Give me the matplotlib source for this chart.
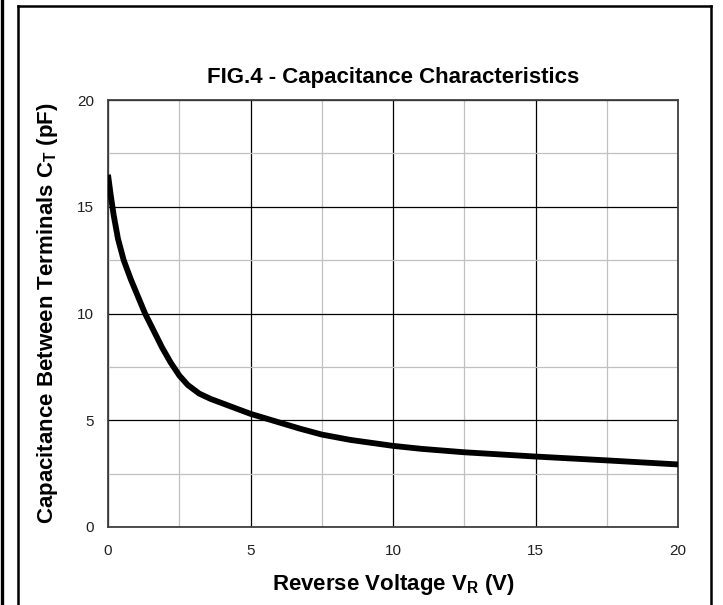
import matplotlib
matplotlib.use('Agg')
import matplotlib.pyplot as plt
from matplotlib.lines import Line2D
from matplotlib.ticker import MultipleLocator

plt.rcParams['font.family'] = ['Liberation Sans', 'DejaVu Sans']
plt.rcParams['mathtext.fontset'] = 'custom'
plt.rcParams['mathtext.bf'] = 'Liberation Sans:bold'
plt.rcParams['mathtext.rm'] = 'Liberation Sans'

# 读图得到的电容特性数据
voltage = [0, 0.1, 0.2, 0.35, 0.55, 0.8, 1.05, 1.3, 1.6, 1.9, 2.2, 2.5, 2.8, 3.2, 3.6, 4.0,
           4.5, 5.0, 5.5, 6.0, 6.75, 7.5, 8.5, 10, 11, 12.5, 15, 17.5, 20]
capacitance = [16.5, 15.5, 14.6, 13.5, 12.5, 11.6, 10.8, 10.0, 9.2, 8.4, 7.7, 7.1, 6.65, 6.25, 6.0, 5.8,
               5.55, 5.3, 5.1, 4.9, 4.6, 4.33, 4.08, 3.8, 3.66, 3.5, 3.3, 3.12, 2.93]

x_ticks = [0, 5, 10, 15, 20]
y_ticks = [0, 5, 10, 15, 20]

fig = plt.figure(figsize=(7.23, 6.05), dpi=100)
ax = fig.add_axes([108 / 723, 78 / 605, 570 / 723, 427 / 605])

ax.plot(voltage, capacitance, color='black', linewidth=4.2,
        solid_capstyle='butt', solid_joinstyle='round', zorder=3)

ax.set_xlim(0, 20)
ax.set_ylim(0, 20)
ax.set_xticks(x_ticks)
ax.set_yticks(y_ticks)
ax.xaxis.set_minor_locator(MultipleLocator(2.5))
ax.yaxis.set_minor_locator(MultipleLocator(2.5))
ax.grid(which='major', color='black', linewidth=0.9)
ax.grid(which='minor', color='#c0c0c0', linewidth=0.9)
ax.tick_params(which='both', length=0, labelsize=11, colors='#202020')
ax.tick_params(axis='x', pad=12)
ax.tick_params(axis='y', pad=10)
for s in ax.spines.values():
    s.set_color('#404040')
    s.set_linewidth(1.3)

ax.set_title('FIG.4 - Capacitance Characteristics', fontsize=16, fontweight='bold', pad=12)
ax.set_xlabel(r'Reverse Voltage V$_\mathbf{R}$ (V)', fontsize=16, fontweight='bold', labelpad=10)
ax.set_ylabel(r'Capacitance Between Terminals C$_\mathbf{T}$ (pF)', fontsize=16, fontweight='bold', labelpad=12)

# 外框
W, H = 723, 605
fig.add_artist(Line2D([1.5 / W, 1.5 / W], [0, 1], color='black', linewidth=2.4))
fig.add_artist(Line2D([17.5 / W, 17.5 / W], [0, 1 - 6 / H], color='black', linewidth=1.8))
fig.add_artist(Line2D([17.5 / W, 711 / W], [1 - 6 / H, 1 - 6 / H], color='black', linewidth=1.8))
fig.add_artist(Line2D([711 / W, 711 / W], [0, 1 - 6 / H], color='black', linewidth=1.8))

fig.savefig('out.png', dpi=100)
